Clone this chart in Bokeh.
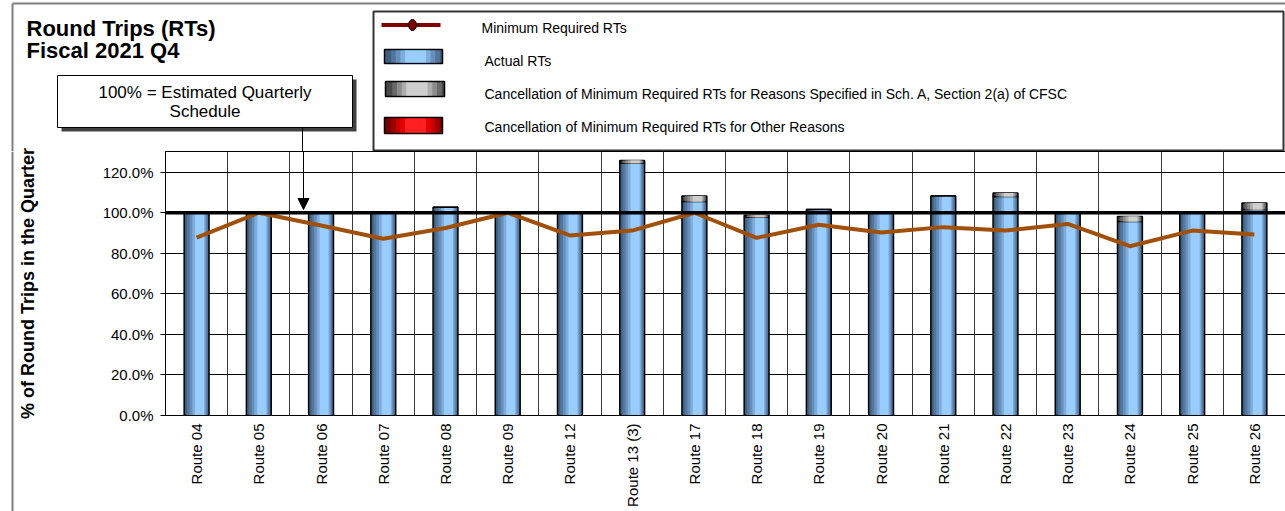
import math
from bokeh.plotting import figure
from bokeh.layouts import column, row
from bokeh.models import (ColumnDataSource, FactorRange, Range1d, FixedTicker,
                          PrintfTickFormatter, Span, Arrow, NormalHead)
from bokeh.core.properties import value
from bokeh.transform import dodge
from bokeh.embed import file_html
from bokeh.resources import INLINE

# ---------------- data ----------------
routes = ["Route 04", "Route 05", "Route 06", "Route 07", "Route 08", "Route 09",
          "Route 12", "Route 13 (3)", "Route 17", "Route 18", "Route 19", "Route 20",
          "Route 21", "Route 22", "Route 23", "Route 24", "Route 25", "Route 26"]
actual_rts = [100.0, 100.0, 100.0, 100.0, 102.7, 100.0, 100.0, 124.4, 105.5, 97.8,
              101.6, 100.0, 108.2, 108.0, 100.0, 95.7, 100.0, 101.6]
cancel_sch_a = [0.0, 0.0, 0.0, 0.0, 0.0, 0.0, 0.0, 1.3, 2.7, 1.0,
                0.0, 0.0, 0.0, 1.7, 0.0, 2.4, 0.0, 3.2]
cancel_other = [0.0, 0.0, 0.0, 0.0, 0.0, 0.0, 0.0, 0.0, 0.0, 0.0,
                0.0, 0.0, 0.0, 0.0, 0.0, 0.0, 0.0, 0.0]
min_required = [87.7, 100.0, 93.7, 87.2, 92.5, 100.0, 88.8, 91.2, 100.0, 87.6,
                94.1, 90.3, 92.9, 91.2, 94.5, 83.5, 91.2, 89.3]
y_ticks = [0, 20, 40, 60, 80, 100, 120]
y_max = 130.2

title_lines = ["Round Trips (RTs)", "Fiscal 2021 Q4"]
note_lines = ["100% = Estimated Quarterly", "Schedule"]
legend_labels = ["Minimum Required RTs", "Actual RTs",
                 "Cancellation of Minimum Required RTs for Reasons Specified in Sch. A, Section 2(a) of CFSC",
                 "Cancellation of Minimum Required RTs for Other Reasons"]
y_title = "% of Round Trips in the Quarter"

FONT = "Liberation Sans"
BORDER = "#808080"

blue_cols = ["#3E5F80", "#52779E", "#688FBA", "#7FADDB", "#99CCFF"]
grey_cols = ["#4A4A4A", "#6A6A6A", "#8C8C8C", "#ADADAD", "#CFCFCF"]
red_cols = ["#7A0000", "#A00000", "#C80000", "#E80000", "#FF2020"]
fracs = [1.0, 0.84, 0.68, 0.52, 0.36]

sch_top = [a + b for a, b in zip(actual_rts, cancel_sch_a)]
other_top = [s + c for s, c in zip(sch_top, cancel_other)]

src = ColumnDataSource(dict(route=routes, actual=actual_rts, sch_bottom=actual_rts,
                            sch_top=sch_top, other_bottom=sch_top, other_top=other_top,
                            required=min_required))

W, H = 1285, 511
HEADER_H = 151
OVERLAP = 22          # main chart reaches up into the header band (room for the y title)
STRIP_W = 14
FRAME_L, FRAME_W, FRAME_H = 164, 1120, 264


def blank(width, height, x_range, y_range):
    f = figure(width=width, height=height, x_range=x_range, y_range=y_range,
               x_axis_type=None, y_axis_type=None, min_border=0,
               output_backend="svg", toolbar_location=None)
    f.frame_width = width
    f.frame_height = height
    f.outline_line_color = None
    f.xgrid.visible = False
    f.ygrid.visible = False
    f.background_fill_color = "white"
    f.border_fill_color = "white"
    return f


# ---------------- header (title, note box, legend); page pixel coordinates ----------------
hd = blank(W, HEADER_H, Range1d(0, W), Range1d(HEADER_H, 0))

hd.segment(x0=[12, 12], y0=[3, 3], x1=[W, 12], y1=[3, HEADER_H], line_color=BORDER, line_width=2)

hd.text(x=[26, 26], y=[28, 50], text=title_lines, text_font=value(FONT),
        text_font_size=value("22px"), text_font_style="bold", text_color="black",
        text_baseline="middle")

hd.quad(left=[61], right=[356], top=[79], bottom=[131], fill_color="#404040", line_color=None)
hd.quad(left=[57], right=[352], top=[75], bottom=[127], fill_color="white",
        line_color="black", line_width=1)
hd.text(x=[204.5, 204.5], y=[91.5, 111], text=note_lines, text_font=value(FONT),
        text_font_size=value("17px"), text_color="black", text_align="center",
        text_baseline="middle")
hd.segment(x0=[302], y0=[127], x1=[302], y1=[HEADER_H], line_color="black", line_width=1)

hd.quad(left=[373], right=[1283], top=[11], bottom=[150], fill_color="white",
        line_color="#333333", line_width=2)
hd.quad(left=[381], right=[440], top=[22.5], bottom=[26.5], fill_color="#800000", line_color=None)
hd.ellipse(x=[412], y=[24.5], width=[8], height=[11], fill_color="#800000",
           line_color="black", line_width=1)


def grad_box(l, r, t, b, cols):
    w = r - l
    c = (l + r) / 2 + 2
    hd.quad(left=[l], right=[r], top=[t], bottom=[b], fill_color=cols[0],
            line_color="black", line_width=1.5)
    for f, col in zip(fracs[1:], cols[1:]):
        hw = w * f / 2
        hd.quad(left=[c - hw], right=[c + hw], top=[t + 1], bottom=[b - 1],
                fill_color=col, line_color=None)


grad_box(384, 442, 49, 63, blue_cols)
grad_box(385, 444, 81, 96, grey_cols)
grad_box(384, 442, 117, 133, red_cols)

hd.text(x=[481, 484, 484, 484], y=[27, 60, 93, 126], text=legend_labels,
        text_font=value(FONT), text_font_size=value("14px"), text_color="black",
        text_baseline="middle")

# ---------------- left strip (chart border) ----------------
ST_H = H - HEADER_H + OVERLAP
st = blank(STRIP_W, ST_H, Range1d(0, STRIP_W), Range1d(ST_H, 0))
st.background_fill_alpha = 0
st.border_fill_alpha = 0
st.add_layout(Span(location=12, dimension="height", line_color=BORDER, line_width=2))

# ---------------- main chart ----------------
p = figure(x_range=FactorRange(factors=routes), y_range=Range1d(0, y_max),
           frame_width=FRAME_W, frame_height=FRAME_H,
           min_border_left=FRAME_L - STRIP_W, min_border_right=1, min_border_top=OVERLAP,
           min_border_bottom=H - HEADER_H - FRAME_H,
           output_backend="svg", toolbar_location=None)
p.background_fill_color = "white"
p.border_fill_alpha = 0
p.outline_line_color = "black"
p.outline_line_width = 1

p.ygrid.ticker = FixedTicker(ticks=y_ticks)
p.ygrid.grid_line_color = "black"
p.ygrid.grid_line_width = 1
p.xgrid.ticker = FixedTicker(ticks=list(range(1, len(routes))))
p.xgrid.grid_line_color = "#3a3a3a"
p.xgrid.grid_line_width = 1

p.yaxis.ticker = FixedTicker(ticks=y_ticks)
p.yaxis.formatter = PrintfTickFormatter(format="%.1f%%")
p.yaxis.major_label_text_font = FONT
p.yaxis.major_label_text_font_size = "15px"
p.yaxis.major_label_text_color = "black"
p.yaxis.major_tick_out = 5
p.yaxis.major_tick_in = 0
p.yaxis.minor_tick_line_color = None
p.yaxis.major_label_standoff = 7
p.yaxis.axis_line_color = "black"
p.yaxis.axis_label = y_title
p.yaxis.axis_label_text_font = FONT
p.yaxis.axis_label_text_font_size = "18px"
p.yaxis.axis_label_text_font_style = "bold"
p.yaxis.axis_label_text_color = "black"
p.yaxis.axis_label_standoff = 62

p.xaxis.major_label_orientation = math.pi / 2
p.xaxis.major_label_text_font = FONT
p.xaxis.major_label_text_font_size = "15px"
p.xaxis.major_label_text_color = "black"
p.xaxis.major_tick_line_color = None
p.xaxis.major_tick_out = 0
p.xaxis.major_label_standoff = 8
p.xaxis.axis_line_color = "black"

BW = 0.40


def layered(bottom, top, cols, outline):
    for i, (f, c) in enumerate(zip(fracs, cols)):
        off = 0.0 if i == 0 else 0.012 * i
        p.vbar(x=dodge("route", off, range=p.x_range), width=BW * f,
               bottom=bottom, top=top, source=src, fill_color=c,
               line_color=(outline if i == 0 else None), line_width=1.5)


layered(0, "actual", blue_cols, "black")
layered("sch_bottom", "sch_top", grey_cols, "black")
layered("other_bottom", "other_top", red_cols, None)

p.add_layout(Span(location=100, dimension="width", line_color="black", line_width=3.5))
p.line(x="route", y="required", source=src, line_color="#A0500A", line_width=4)

p.add_layout(Arrow(x_start=302 - FRAME_L, y_start=FRAME_H + 2, x_end=302 - FRAME_L,
                   y_end=HEADER_H + FRAME_H - 209, start_units="screen", end_units="screen",
                   line_color="black", line_width=1,
                   end=NormalHead(size=11, fill_color="black", line_color="black")))

bottom_row = row(st, p, margin=(-OVERLAP, 0, 0, 0))
layout = column(hd, bottom_row)
open("out.html", "w").write(file_html(layout, INLINE))
